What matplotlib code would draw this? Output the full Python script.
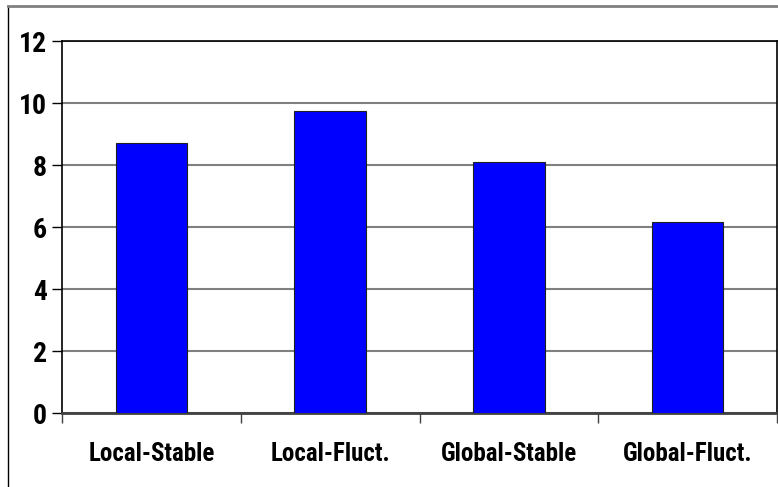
import matplotlib
matplotlib.use("Agg")
import matplotlib.pyplot as plt
from matplotlib.lines import Line2D

categories = ["Local-Stable", "Local-Fluct.", "Global-Stable", "Global-Fluct."]
values = [8.72, 9.75, 8.09, 6.17]
yticks = [0, 2, 4, 6, 8, 10, 12]

plt.rcParams["font.family"] = ["Roboto Condensed", "DejaVu Sans"]
plt.rcParams["font.weight"] = "bold"

fig = plt.figure(figsize=(7.78, 4.87), dpi=100)
ax = fig.add_axes([62 / 778, 1 - 413 / 487, (777 - 62) / 778, (413 - 41) / 487])

x = list(range(len(categories)))
ax.bar(x, values, width=0.4, color="#0000FF", edgecolor="#202020", linewidth=0.8, zorder=3)

ax.set_xlim(-0.5, len(categories) - 0.5)
ax.set_ylim(0, 12)
ax.set_yticks(yticks)
ax.set_yticklabels([str(v) for v in yticks], fontsize=20, fontweight="bold")
ax.yaxis.grid(True, color="#808080", linewidth=1.5, zorder=0)
ax.tick_params(axis="y", length=7, width=1, pad=4)

# boundary ticks between categories, labels at centres
ax.set_xticks([i - 0.5 for i in range(len(categories) + 1)])
ax.set_xticklabels([])
ax.tick_params(axis="x", which="major", length=7, width=1, direction="out", color="#404040")
ax.set_xticks(x, minor=True)
ax.set_xticklabels(categories, minor=True, fontsize=18, fontweight="bold")
ax.tick_params(axis="x", which="minor", length=0, pad=21)

for s in ax.spines.values():
    s.set_color("black")
    s.set_linewidth(1.2)
ax.spines["bottom"].set_color("#404040")
ax.spines["bottom"].set_linewidth(2)

# outer chart frame (cropped at right and bottom)
fig.add_artist(Line2D([8 / 778, 8 / 778], [0, 1 - 6 / 487], transform=fig.transFigure, color="black", linewidth=1))
fig.add_artist(Line2D([8 / 778, 1], [1 - 6 / 487, 1 - 6 / 487], transform=fig.transFigure, color="#808080", linewidth=2))

fig.savefig("out.png", dpi=100)
plt.close(fig)
